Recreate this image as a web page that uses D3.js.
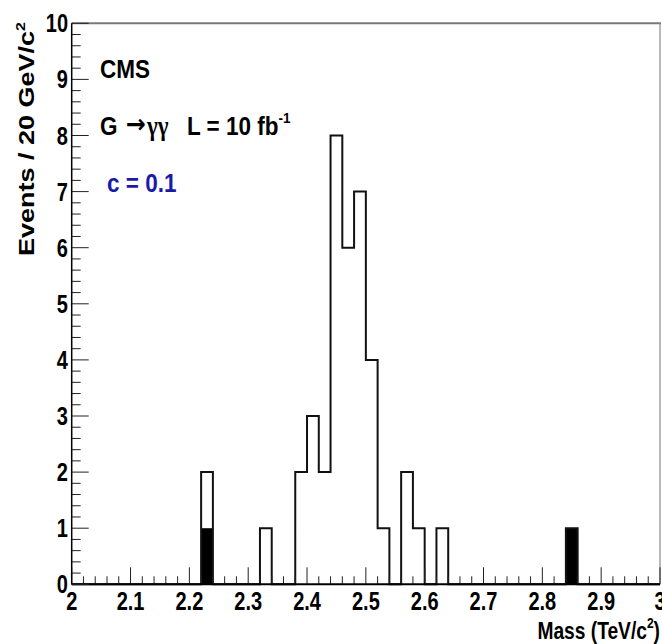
<!DOCTYPE html>
<html>
<head>
<meta charset="utf-8">
<script src="https://cdn.jsdelivr.net/npm/d3@7"></script>
<style>
html,body{margin:0;padding:0;background:#fff;}
svg{display:block;}
text{font-family:"Liberation Sans",Arial,Helvetica,sans-serif;font-weight:bold;}
</style>
</head>
<body>
<svg id="chart" width="662" height="644"></svg>
<script>
// ---- data ----
const binStart = 2.0;
const binWidth = 0.02;
const totalCounts = [0,0,0,0,0,0,0,0,0,0, 0,2,0,0,0,0,1,0,0,2, 3,2,8,6,7,4,1,0,2,1, 0,1,0,0,0,0,0,0,0,0, 0,0,1,0,0,0,0,0,0,0];
const backgroundCounts = [0,0,0,0,0,0,0,0,0,0, 0,1,0,0,0,0,0,0,0,0, 0,0,0,0,0,0,0,0,0,0, 0,0,0,0,0,0,0,0,0,0, 0,0,1,0,0,0,0,0,0,0];
const xTickLabels = ["2","2.1","2.2","2.3","2.4","2.5","2.6","2.7","2.8","2.9","3"];
const yTickLabels = ["0","1","2","3","4","5","6","7","8","9","10"];
const xDomain = [2, 3];
const yDomain = [0, 10];

// ---- layout ----
const svg = d3.select("#chart");
const mL = 71.7, mR = 660, mT = 23.3, mB = 584.3;
const x = d3.scaleLinear().domain(xDomain).range([mL, mR]);
const y = d3.scaleLinear().domain(yDomain).range([mB, mT]);

function label(g, tx, ty, anchor, size, sx, rot) {
  return g.append("text")
    .attr("transform", `translate(${tx},${ty}) scale(${sx},1)` + (rot ? ` rotate(${rot})` : ""))
    .attr("text-anchor", anchor)
    .attr("font-size", size);
}

// background fill
const bins = totalCounts.map((v, i) => ({x0: binStart + i * binWidth, x1: binStart + (i + 1) * binWidth, v, b: backgroundCounts[i]}));
svg.append("g").selectAll("rect").data(bins.filter(d => d.b > 0)).join("rect")
  .attr("x", d => x(d.x0))
  .attr("width", d => x(d.x1) - x(d.x0))
  .attr("y", d => y(d.b))
  .attr("height", d => y(0) - y(d.b))
  .attr("fill", "#000");

// open histogram outline
const pts = [[xDomain[0], 0]];
bins.forEach(d => { pts.push([d.x0, d.v]); pts.push([d.x1, d.v]); });
pts.push([xDomain[1], 0]);
svg.append("path")
  .attr("d", d3.line().x(p => x(p[0])).y(p => y(p[1]))(pts))
  .attr("fill", "none").attr("stroke", "#111").attr("stroke-width", 2)
  .attr("stroke-linejoin", "miter");

// frame top/right
svg.append("line").attr("x1", mL).attr("x2", mR + 1).attr("y1", mT).attr("y2", mT)
  .attr("stroke", "#7a7a7a").attr("stroke-width", 2);
svg.append("line").attr("x1", mR).attr("x2", mR).attr("y1", mT).attr("y2", mB)
  .attr("stroke", "#8a8a8a").attr("stroke-width", 1.2);

// x axis
const gx = svg.append("g");
const xMinor = d3.range(0, 51).map(i => 2 + i * 0.02);
gx.selectAll("line.t").data(xMinor).join("line")
  .attr("x1", d => x(d)).attr("x2", d => x(d))
  .attr("y1", mB)
  .attr("y2", (d, i) => i % 5 === 0 ? mB - 17 : mB - 8)
  .attr("stroke", "#222").attr("stroke-width", 1);
gx.append("line").attr("x1", mL).attr("x2", mR).attr("y1", mB).attr("y2", mB)
  .attr("stroke", "#000").attr("stroke-width", 2);
x.ticks(10).forEach((t, i) => {
  label(gx, x(t), 610, "middle", 25, 0.8).text(xTickLabels[i]);
});
const xt = label(gx, mR, 639, "end", 24, 0.8);
xt.append("tspan").text("Mass (TeV/c");
xt.append("tspan").attr("font-size", 15).attr("dy", -11).text("2");
xt.append("tspan").attr("dy", 11).text(")");

// y axis
const gy = svg.append("g");
const yMinor = d3.range(0, 51).map(i => i * 0.2);
gy.selectAll("line.t").data(yMinor).join("line")
  .attr("x1", mL)
  .attr("x2", (d, i) => i % 5 === 0 ? mL + 17 : mL + 9)
  .attr("y1", d => y(d)).attr("y2", d => y(d))
  .attr("stroke", "#222").attr("stroke-width", 1);
gy.append("line").attr("x1", mL).attr("x2", mL).attr("y1", mT).attr("y2", mB)
  .attr("stroke", "#000").attr("stroke-width", 1.5);
y.ticks(10).forEach((t, i) => {
  label(gy, 68, y(t) + 9, "end", 25, 0.8).text(yTickLabels[i]);
});
const yt = label(gy, 34, 22, "end", 27, 0.8, -90);
yt.append("tspan").text("Events / 20 GeV/c");
yt.append("tspan").attr("font-size", 16).attr("dy", -11).text("2");

// annotations
const ga = svg.append("g");
const SA = 0.9;
label(ga, 100, 78, "start", 25, SA).text("CMS");
label(ga, 100, 135, "start", 25, SA).text("G");
label(ga, 126, 133, "start", 26, 1).attr("font-weight", "normal")
  .style("font-family", "'DejaVu Sans',sans-serif")
  .attr("textLength", 20).attr("lengthAdjust", "spacingAndGlyphs").text("\u2192");
label(ga, 147, 135, "start", 27, 0.85).attr("font-weight", "normal")
  .style("font-family", "'Liberation Serif',serif").text("\u03b3\u03b3");
const gl = label(ga, 187, 135, "start", 25, SA);
gl.append("tspan").text("L = 10 fb");
gl.append("tspan").attr("font-size", 15).attr("dy", -12).text("-1");
label(ga, 107, 192, "start", 25, SA).attr("fill", "#1a1aaa").text("c = 0.1");
</script>
</body>
</html>
